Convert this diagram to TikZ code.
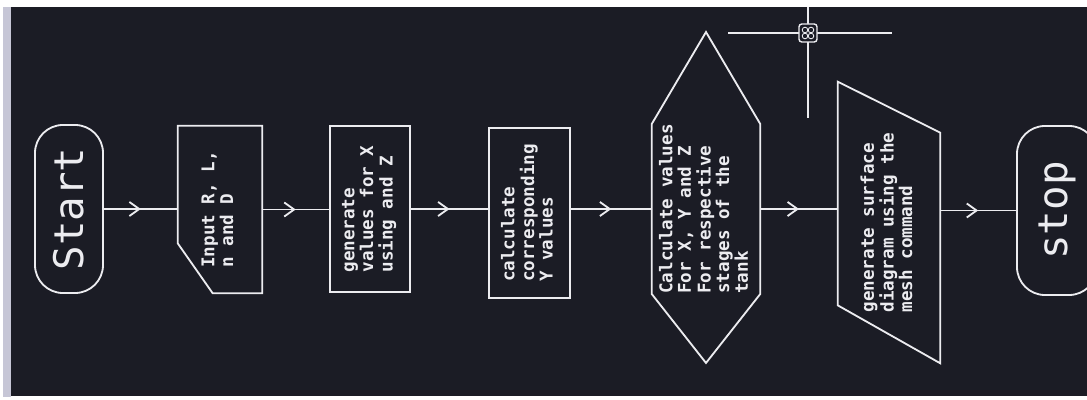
\documentclass[tikz,border=0pt]{standalone}
\usepackage{fontspec}
\setmonofont{DejaVu Sans Mono}
\usepackage{tikz}
\usetikzlibrary{arrows.meta,calc,decorations.markings}

\definecolor{screen}{RGB}{27,28,37}
\definecolor{edge}{RGB}{198,198,214}
\definecolor{pen}{RGB}{236,236,240}

% text set upright along the page (reads bottom to top)
\newcommand{\vtext}[1]{\rotatebox{90}{\begin{tabular}{@{}l@{}}#1\end{tabular}}}

\tikzset{
  outline/.style={draw=pen, line width=1.3pt, line join=miter},
  block/.style={outline, inner sep=0pt, text=pen, font=\ttfamily\bfseries\fontsize{12.5}{12.5}\selectfont},
  frame/.style={inner sep=0pt, text=pen, font=\ttfamily\bfseries\fontsize{12.5}{12.5}\selectfont},
  term/.style={outline, rounded corners=0.7cm, minimum height=4.2cm, inner sep=0pt, text=pen, font=\ttfamily\fontsize{29}{30}\selectfont},
  flow/.style={draw=pen, line width=1.3pt, postaction={decorate},
    decoration={markings, mark=at position 0.5 with {\arrow[pen, line width=1.3pt]{Straight Barb[length=7pt, width=10pt]}}}}
}

\begin{document}
\begin{tikzpicture}[x=0.025cm, y=-0.025cm]
  \useasboundingbox (0,0) rectangle (1087,400);
  \clip (0,0) rectangle (1087,400);

  % Screen
  \fill[white] (0,0) rectangle (1087,400);
  \fill[edge] (3,7) rectangle (11,397);
  \fill[screen] (11,7) rectangle (1087,396);

  % Terminals
  \node[term, minimum width=1.7cm] (start) at (69,209) {\rotatebox{90}{Start}};
  \node[term, minimum width=2cm, minimum height=4.225cm] (stop) at (1057,210.5) {\rotatebox{90}{stop}};

  % Input (cut corner)
  \node[frame, minimum width=2.1cm, minimum height=4.175cm] (input) at (220,209.5) {\vtext{Input R, L,\\n and D}};
  \draw[outline] (input.north west) -- (input.north east) -- (input.south east)
    -- ([xshift=0.875cm]input.south west) -- ([yshift=1.25cm]input.south west) -- cycle;

  % Process boxes
  \node[block, minimum width=2cm, minimum height=4.15cm] (gen) at (370,209) {\vtext{generate\\values for X\\using and Z}};
  \node[block, minimum width=2.025cm, minimum height=4.25cm] (calc) at (529.5,213) {\vtext{calculate\\corresponding\\Y values}};

  % Hexagon
  \node[frame, minimum width=2.7cm, minimum height=4.2cm] (hex) at (706,209)
    {\vtext{Calculate values\\For X, Y and Z\\For respective\\stages of the\\tank}};
  \draw[outline] ([yshift=2.3cm]hex.north) -- (hex.north east) -- (hex.south east)
    -- ([yshift=-1.725cm]hex.south) -- (hex.south west) -- (hex.north west) -- cycle;

  % Parallelogram
  \node[frame, minimum width=2.55cm, minimum height=7.025cm] (surf) at (889,222.5)
    {\vtext{generate surface\\diagram using the\\mesh command}};
  \draw[outline] (surf.north west) -- ([yshift=-1.275cm]surf.north east) -- (surf.south east)
    -- ([yshift=1.45cm]surf.south west) -- cycle;

  % Connectors
  \draw[flow] (start.east) -- (start.east -| input.west);
  \draw[flow] (input.east) -- (input.east -| gen.west);
  \draw[flow] (gen.east) -- (gen.east -| calc.west);
  \draw[flow] (calc.east |- hex.west) -- (hex.west);
  \draw[flow] (hex.east) -- (hex.east -| surf.west);
  \draw[flow] (surf.east |- stop.west) -- (stop.west);

  % Cursor
  \draw[pen, line width=1pt] (728,33) -- (892,33);
  \draw[pen, line width=1pt] (808,7) -- (808,118);
  \draw[pen, line width=1pt, fill=screen, rounded corners=2pt] (799,24) rectangle (817,42);
  \foreach \dx/\dy in {-3/-3, 3/-3, -3/3, 3/3}
    \draw[pen, line width=0.6pt] (808+\dx,33+\dy) circle[radius=0.07cm];
\end{tikzpicture}
\end{document}
